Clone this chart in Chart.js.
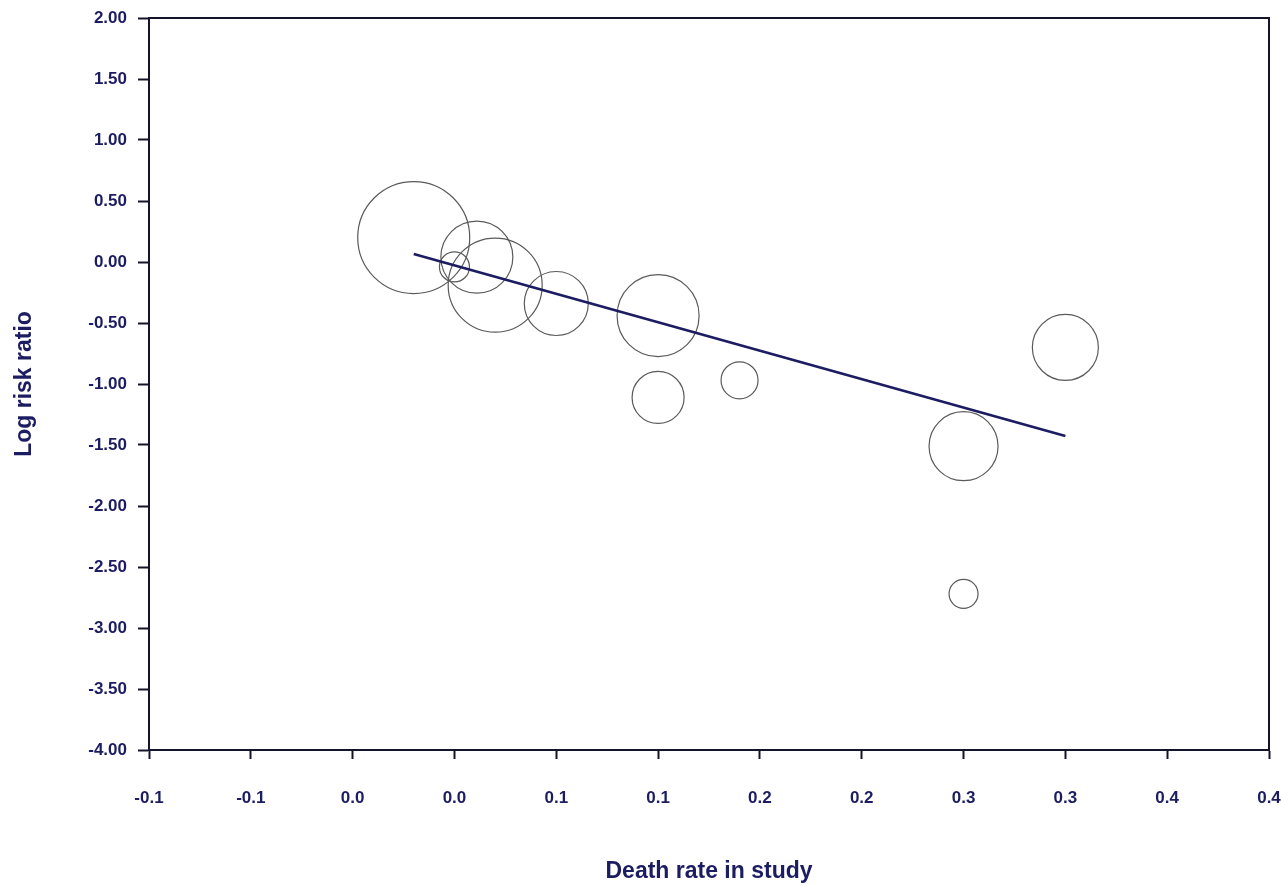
<!DOCTYPE html>
<html>
<head>
<meta charset="utf-8">
<script src="https://cdn.jsdelivr.net/npm/chart.js@4/dist/chart.umd.min.js"></script>
<style>
  html, body { margin: 0; padding: 0; background: #ffffff; }
  #wrap { width: 1281px; height: 885px; position: relative; }
</style>
</head>
<body>
<div id="wrap"><canvas id="c" width="1281" height="885"></canvas></div>
<script>
// ---- Data ----
const deathRate   = [-0.02, 0.00, 0.011, 0.020, 0.050, 0.100, 0.100, 0.140, 0.250, 0.250, 0.300];
const logRiskRatio = [0.20, -0.04, 0.04, -0.19, -0.34, -0.44, -1.11, -0.97, -1.51, -2.72, -0.70];
const studyWeight = [5.6, 1.5, 3.6, 4.7, 3.2, 4.1, 2.6, 1.85, 3.45, 1.45, 3.3];

const fitX = [-0.02, 0.30];
const fitY = [0.066, -1.426];

const xTickLabels = ['-0.1', '-0.1', '0.0', '0.0', '0.1', '0.1', '0.2', '0.2', '0.3', '0.3', '0.4', '0.4'];
const yTickLabels = ['-4.00', '-3.50', '-3.00', '-2.50', '-2.00', '-1.50', '-1.00', '-0.50', '0.00', '0.50', '1.00', '1.50', '2.00'];

const xTitle = 'Death rate in study';
const yTitle = 'Log risk ratio';

// ---- Styling ----
const navy = '#1c1c62';
const axisColor = '#15152a';
const FONT = "'Liberation Sans', Arial, sans-serif";
const radiusScale = 10;

const bubbles = deathRate.map((x, i) => ({ x: x, y: logRiskRatio[i], r: studyWeight[i] * radiusScale }));
const fitLine = fitX.map((x, i) => ({ x: x, y: fitY[i] }));

const frame = {
  id: 'frame',
  afterDraw(chart) {
    const { ctx, chartArea: a } = chart;
    ctx.save();
    ctx.strokeStyle = axisColor;
    ctx.lineWidth = 2;
    ctx.strokeRect(a.left, a.top, a.right - a.left, a.bottom - a.top);
    ctx.restore();
  }
};

function zeroPad(scale) {
  scale.paddingTop = 0; scale.paddingBottom = 0;
  scale.paddingLeft = 0; scale.paddingRight = 0;
}

new Chart(document.getElementById('c'), {
  type: 'bubble',
  data: {
    datasets: [
      {
        type: 'bubble',
        data: bubbles,
        backgroundColor: 'rgba(0,0,0,0)',
        borderColor: '#5a5a5a',
        borderWidth: 1.2,
        hoverBorderWidth: 1.2,
        clip: false,
        order: 2
      },
      {
        type: 'line',
        data: fitLine,
        borderColor: navy,
        borderWidth: 2.6,
        pointRadius: 0,
        fill: false,
        order: 1
      }
    ]
  },
  options: {
    responsive: false,
    animation: false,
    events: [],
    layout: { autoPadding: false, padding: { left: 0, top: 18, right: 12, bottom: 0 } },
    plugins: {
      legend: { display: false },
      tooltip: { enabled: false }
    },
    scales: {
      x: {
        type: 'linear',
        min: -0.15,
        max: 0.40,
        afterFit(scale) { scale.height = 135; zeroPad(scale); },
        border: { display: true, color: axisColor, width: 2 },
        grid: { drawOnChartArea: false, drawTicks: true, tickLength: 9, color: axisColor, tickWidth: 2 },
        ticks: {
          stepSize: 0.05,
          autoSkip: false,
          maxRotation: 0,
          padding: 29,
          color: navy,
          font: { family: FONT, size: 17, weight: 'bold' },
          callback: (v, i) => xTickLabels[i]
        },
        title: {
          display: true,
          text: xTitle,
          color: navy,
          font: { family: FONT, size: 23, weight: 'bold', lineHeight: 1.13 },
          padding: { top: 0, bottom: 0 }
        }
      },
      y: {
        type: 'linear',
        min: -4,
        max: 2,
        afterFit(scale) { scale.width = 149; zeroPad(scale); },
        border: { display: true, color: axisColor, width: 2 },
        grid: { drawOnChartArea: false, drawTicks: true, tickLength: 11, color: axisColor, tickWidth: 2 },
        ticks: {
          stepSize: 0.5,
          autoSkip: false,
          padding: 11,
          color: navy,
          font: { family: FONT, size: 17, weight: 'bold' },
          callback: (v, i) => yTickLabels[i]
        },
        title: {
          display: true,
          text: yTitle,
          color: navy,
          font: { family: FONT, size: 23, weight: 'bold', lineHeight: 1.2 },
          padding: { top: 11, bottom: 0 }
        }
      }
    }
  },
  plugins: [frame]
});
</script>
</body>
</html>
